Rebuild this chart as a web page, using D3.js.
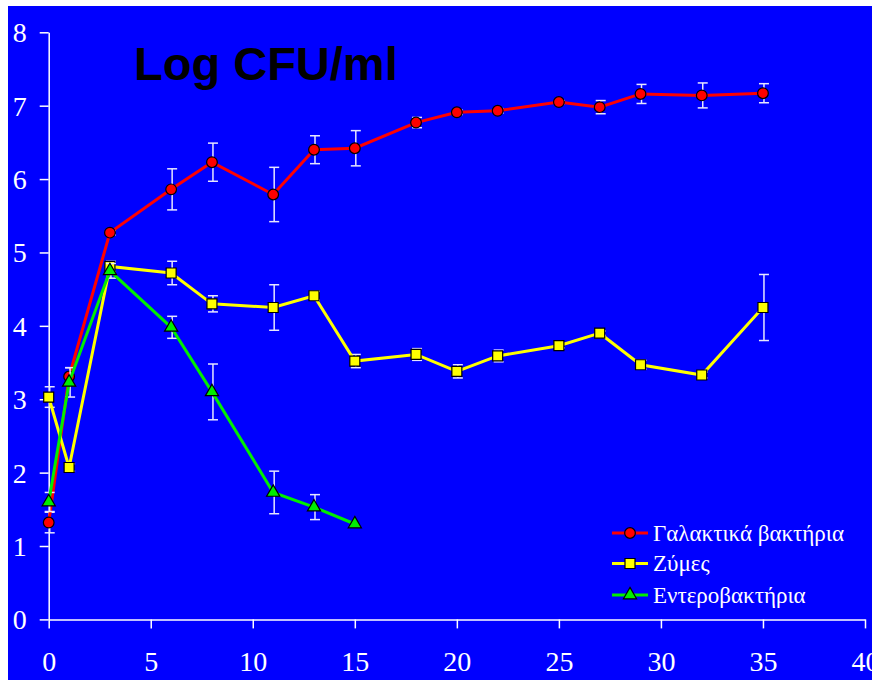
<!DOCTYPE html>
<meta charset="utf-8">
<style>
body { margin: 0; background: #fff; }
.axis text { font: 28px "Liberation Serif", "Times New Roman", serif; fill: #fff; }
.axis line, .axis path { stroke: #fff; stroke-width: 1.5px; fill: none; }
.legend text { font: 23px "Liberation Serif", "Times New Roman", serif; fill: #fff; }
</style>
<body>
<div id="chart"></div>
<script src="https://cdnjs.cloudflare.com/ajax/libs/d3/7.8.5/d3.min.js"></script>
<script>
// days sampled
var days = [0, 1, 3, 6, 8, 11, 13, 15, 18, 20, 22, 25, 27, 29, 32, 35];
var entDays = [0, 1, 3, 6, 8, 11, 13, 15];

// log CFU/ml, mean and error
var lab = [1.32, 3.31, 5.27, 5.86, 6.23, 5.79, 6.40, 6.42, 6.77, 6.91, 6.93, 7.05, 6.98, 7.16, 7.14, 7.17];
var labErr = [0.14, 0.12, 0.03, 0.28, 0.26, 0.37, 0.19, 0.24, 0.07, 0.03, 0.03, 0.02, 0.09, 0.13, 0.17, 0.13];
var yeast = [3.03, 2.07, 4.81, 4.72, 4.30, 4.25, 4.41, 3.52, 3.61, 3.38, 3.59, 3.73, 3.90, 3.47, 3.33, 4.25];
var yeastErr = [0.14, 0.05, 0.07, 0.16, 0.11, 0.31, 0.06, 0.09, 0.08, 0.09, 0.08, 0.03, 0.03, 0.06, 0.04, 0.45];
var ent = [1.60, 3.23, 4.75, 3.98, 3.10, 1.73, 1.53, 1.30];
var entErr = [0.13, 0.20, 0.10, 0.15, 0.38, 0.29, 0.17, 0];

var names = ["Γαλακτικά βακτήρια", "Ζύμες", "Εντεροβακτήρια"];
var xTicks = [0, 5, 10, 15, 20, 25, 30, 35, 40];
var yTicks = [0, 1, 2, 3, 4, 5, 6, 7, 8];

var W = 872, H = 680;
var svg = d3.select("#chart").append("svg")
    .attr("width", W).attr("height", H);

svg.append("rect")
    .attr("x", 8).attr("y", 6)
    .attr("width", W - 8).attr("height", H - 6)
    .attr("fill", "#0000ff");

var x = d3.scaleLinear().domain([0, 40]).range([48.7, 865]);
var y = d3.scaleLinear().domain([0, 8]).range([619.4, 32.3]);

var xAxis = svg.append("g")
    .attr("class", "axis")
    .attr("transform", "translate(0," + y(0) + ")")
    .call(d3.axisBottom(x).tickValues(xTicks).tickSize(9).tickSizeOuter(0));
xAxis.selectAll("text").attr("y", 52).attr("dy", 0);

var yAxis = svg.append("g")
    .attr("class", "axis")
    .attr("transform", "translate(" + x(0) + ",0)")
    .call(d3.axisLeft(y).tickValues(yTicks).tickSize(9).tickSizeOuter(0));
yAxis.selectAll("text").attr("x", -22).attr("dy", "0.34em");

svg.append("text")
    .attr("x", 134).attr("y", 80)
    .style("font", "bold 47px 'Liberation Sans', Arial, sans-serif")
    .attr("fill", "#000")
    .text("Log CFU/ml");

var series = [
    {name: names[0], xs: days, v: lab, e: labErr, color: "#ff0000", sym: d3.symbolCircle, size: 90},
    {name: names[1], xs: days, v: yeast, e: yeastErr, color: "#ffff00", sym: d3.symbolSquare, size: 100},
    {name: names[2], xs: entDays, v: ent, e: entErr, color: "#00ee00", sym: d3.symbolTriangle, size: 75}
];

var line = d3.line()
    .x(function(d) { return x(d.x); })
    .y(function(d) { return y(d.v); });

series.forEach(function(s) {
    var pts = s.xs.map(function(d, i) { return {x: d, v: s.v[i], e: s.e[i]}; });
    var g = svg.append("g");

    var eb = g.selectAll(".err").data(pts.filter(function(d) { return d.e > 0; }))
        .enter().append("g")
        .attr("stroke", "#e6e6ff").attr("stroke-width", 1.5);
    eb.append("line")
        .attr("x1", function(d) { return x(d.x) + 1; }).attr("x2", function(d) { return x(d.x) + 1; })
        .attr("y1", function(d) { return y(d.v + d.e); }).attr("y2", function(d) { return y(d.v - d.e); });
    eb.append("line")
        .attr("x1", function(d) { return x(d.x) - 4; }).attr("x2", function(d) { return x(d.x) + 6; })
        .attr("y1", function(d) { return y(d.v + d.e); }).attr("y2", function(d) { return y(d.v + d.e); });
    eb.append("line")
        .attr("x1", function(d) { return x(d.x) - 4; }).attr("x2", function(d) { return x(d.x) + 6; })
        .attr("y1", function(d) { return y(d.v - d.e); }).attr("y2", function(d) { return y(d.v - d.e); });

    s.pts = pts;
    s.g = g;
});

series.forEach(function(s) {
    s.g.append("path")
        .datum(s.pts)
        .attr("d", line)
        .attr("fill", "none")
        .attr("stroke", s.color)
        .attr("stroke-width", 3);
    s.g.selectAll(".mark").data(s.pts)
        .enter().append("path")
        .attr("transform", function(d) { return "translate(" + x(d.x) + "," + y(d.v) + ")"; })
        .attr("d", d3.symbol().type(s.sym).size(s.size))
        .attr("fill", s.color)
        .attr("stroke", "#000")
        .attr("stroke-width", 1.2);
});

// legend
var legend = svg.append("g").attr("class", "legend");
var rowY = [533, 563.5, 595];
series.forEach(function(s, i) {
    var row = legend.append("g").attr("transform", "translate(0," + rowY[i] + ")");
    row.append("line")
        .attr("x1", 612).attr("x2", 648)
        .attr("stroke", s.color).attr("stroke-width", 3);
    row.append("path")
        .attr("transform", "translate(630,0)")
        .attr("d", d3.symbol().type(s.sym).size(s.size))
        .attr("fill", s.color).attr("stroke", "#000").attr("stroke-width", 1.2);
    row.append("text")
        .attr("x", 653).attr("dy", "0.33em")
        .text(s.name);
});
</script>
